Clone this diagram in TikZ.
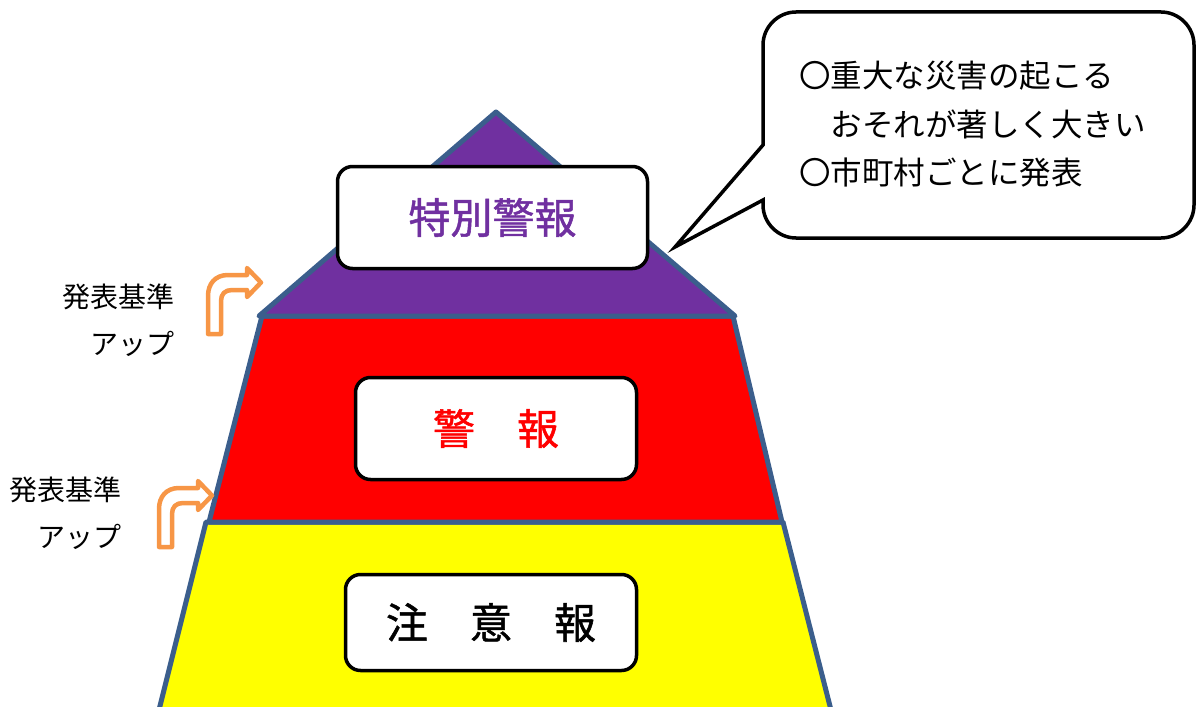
\documentclass[tikz,border=0pt]{standalone}
\usepackage{fontspec}
\setmainfont{Noto Sans CJK JP}
\newfontfamily\jpmed[FakeBold=1.2]{Noto Sans CJK JP}
\definecolor{edgeblue}{HTML}{3B5E8C}
\definecolor{layerpurple}{HTML}{7030A0}
\definecolor{layerred}{HTML}{FF0000}
\definecolor{layeryellow}{HTML}{FFFF00}
\definecolor{arroworange}{HTML}{F79646}
\begin{document}
\begin{tikzpicture}[x=1pt,y=-1pt,
  layer/.style={draw=edgeblue,line width=5pt,line join=round},
  labelbox/.style={draw=black,fill=white,line width=3.5pt,rounded corners=15pt,inner sep=0pt,font=\jpmed\fontsize{42}{50}\selectfont},
  risearrow/.style={draw=arroworange,fill=white,line width=4.5pt,line join=round},
  sidelabel/.style={align=right,inner sep=0pt,font=\fontsize{28}{47}\selectfont},
  bubble/.style={draw=black,fill=white,line width=3.5pt,line join=miter},
  bubbletxt/.style={align=left,inner sep=0pt,font=\fontsize{31.5}{48.5}\selectfont}]
\useasboundingbox (0,0) rectangle (1198,706);
\clip (0,0) rectangle (1198,706);
% pyramid layers
\filldraw[layer,fill=layeryellow] (206,522) -- (783,522) -- (832.5,716) -- (157.5,716) -- cycle;
\filldraw[layer,fill=layerred] (262,316) -- (733,316) -- (782,522) -- (209,522) -- cycle;
\filldraw[layer,fill=layerpurple] (496,112) -- (735,316) -- (259,316) -- cycle;
% label boxes
\node[labelbox,minimum width=310pt,minimum height=102pt,text=layerpurple] (tokubetsu) at (492.5,217.5) {\raisebox{-3pt}{特別警報}};
\node[labelbox,minimum width=281pt,minimum height=102pt,text=layerred] (keiho) at (496,428.5) {\raisebox{-4pt}{警　報}};
\node[labelbox,minimum width=291pt,minimum height=96pt,text=black] (chuiho) at (491,622.5) {\raisebox{-5pt}{注　意　報}};
% callout bubble
\filldraw[bubble] (763,145) -- (763,45) .. controls (763,27) and (778,12) .. (796,12)
  -- (1161,12) .. controls (1179,12) and (1194,27) .. (1194,45)
  -- (1194,205) .. controls (1194,223) and (1179,238) .. (1161,238)
  -- (796,238) .. controls (778,238) and (763,223) .. (763,205)
  -- (763,200) -- (675,247) -- cycle;
\node[bubbletxt,anchor=west] (bubbletext) at (799,124.5) {〇重大な災害の起こる\\　おそれが著しく大きい\\〇市町村ごとに発表};
% side labels
\node[sidelabel,anchor=east] (upone) at (175,320.5) {発表基準\\アップ};
\node[sidelabel,anchor=east] (uptwo) at (122,513.5) {発表基準\\アップ};
% rising arrows
\foreach \dx/\dy in {0/0,-49/213}{
  \begin{scope}[shift={(\dx,\dy)}]
    \filldraw[risearrow] (208,334) -- (208,296) .. controls (208,284) and (215,275) .. (228,275)
      -- (247,275) -- (247,268) -- (261,282.5) -- (247,297) -- (247,290) -- (232,290)
      .. controls (225,290) and (221,294) .. (221,301) -- (221,334) -- cycle;
  \end{scope}
}
\end{tikzpicture}
\end{document}
